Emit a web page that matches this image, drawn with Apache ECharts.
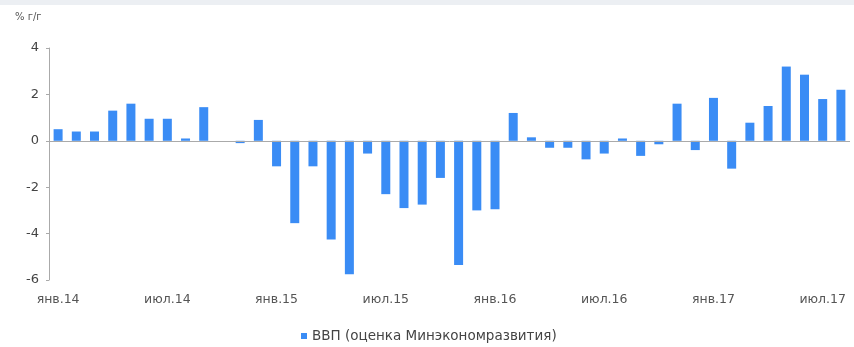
<!DOCTYPE html>
<html>
<head>
<meta charset="utf-8">
<script src="https://cdn.jsdelivr.net/npm/echarts@6/dist/echarts.min.js"></script>
<style>html,body{margin:0;padding:0;background:#fff}#c{width:854px;height:347px}</style>
</head>
<body>
<div id="c"></div>
<script>
var categories = [
  "янв.14","фев.14","мар.14","апр.14","май.14","июн.14","июл.14","авг.14","сен.14","окт.14","ноя.14","дек.14",
  "янв.15","фев.15","мар.15","апр.15","май.15","июн.15","июл.15","авг.15","сен.15","окт.15","ноя.15","дек.15",
  "янв.16","фев.16","мар.16","апр.16","май.16","июн.16","июл.16","авг.16","сен.16","окт.16","ноя.16","дек.16",
  "янв.17","фев.17","мар.17","апр.17","май.17","июн.17","июл.17","авг.17"
];
var gdpValues = [
  0.5, 0.4, 0.4, 1.3, 1.6, 0.95, 0.95, 0.1, 1.45, 0, -0.1, 0.9,
  -1.1, -3.55, -1.1, -4.25, -5.75, -0.55, -2.3, -2.9, -2.75, -1.6, -5.35, -3.0,
  -2.95, 1.2, 0.15, -0.3, -0.3, -0.8, -0.55, 0.1, -0.65, -0.15, 1.6, -0.4,
  1.85, -1.2, 0.78, 1.5, 3.2, 2.85, 1.8, 2.2
];
var seriesName = "ВВП (оценка Минэкономразвития)";
var yUnit = "% г/г";

var chart = echarts.init(document.getElementById('c'));
chart.setOption({
  animation: false,
  textStyle: { fontFamily: 'DejaVu Sans' },
  graphic: [{ type: 'rect', shape: { x: 0, y: 0, width: 854, height: 5 }, style: { fill: '#eceff3' }, silent: true }],
  grid: { left: 49, right: 4, top: 48, bottom: 67 },
  legend: {
    left: 296, top: 324,
    icon: 'rect', itemWidth: 6, itemHeight: 6, itemGap: 10,
    textStyle: { fontSize: 13.5, color: '#444', fontFamily: 'DejaVu Sans' },
    data: [seriesName]
  },
  xAxis: {
    type: 'category',
    data: categories,
    position: 'bottom',
    axisLine: { show: false, onZero: false },
    axisTick: { show: false },
    axisLabel: { interval: 5, margin: 13, fontSize: 12.5, color: '#555', fontFamily: 'DejaVu Sans' }
  },
  yAxis: {
    type: 'value',
    min: -6, max: 4, interval: 2,
    name: yUnit,
    nameLocation: 'end',
    nameGap: 26,
    nameTextStyle: { fontSize: 10, color: '#555', align: 'left', padding: [0, 0, 0, -34] },
    axisLine: { show: true, lineStyle: { color: '#aaa' } },
    axisTick: { show: true, length: 3, lineStyle: { color: '#aaa' } },
    axisLabel: { fontSize: 13, color: '#444', margin: 10 },
    splitLine: { show: false }
  },
  series: [{
    name: seriesName,
    type: 'bar',
    data: gdpValues,
    barWidth: 9,
    itemStyle: { color: '#3a8cf5' },
    markLine: {
      silent: true,
      symbol: 'none',
      label: { show: false },
      lineStyle: { color: '#aaa', type: 'solid', width: 1 },
      data: [{ yAxis: 0 }]
    }
  }]
});
</script>
</body>
</html>
